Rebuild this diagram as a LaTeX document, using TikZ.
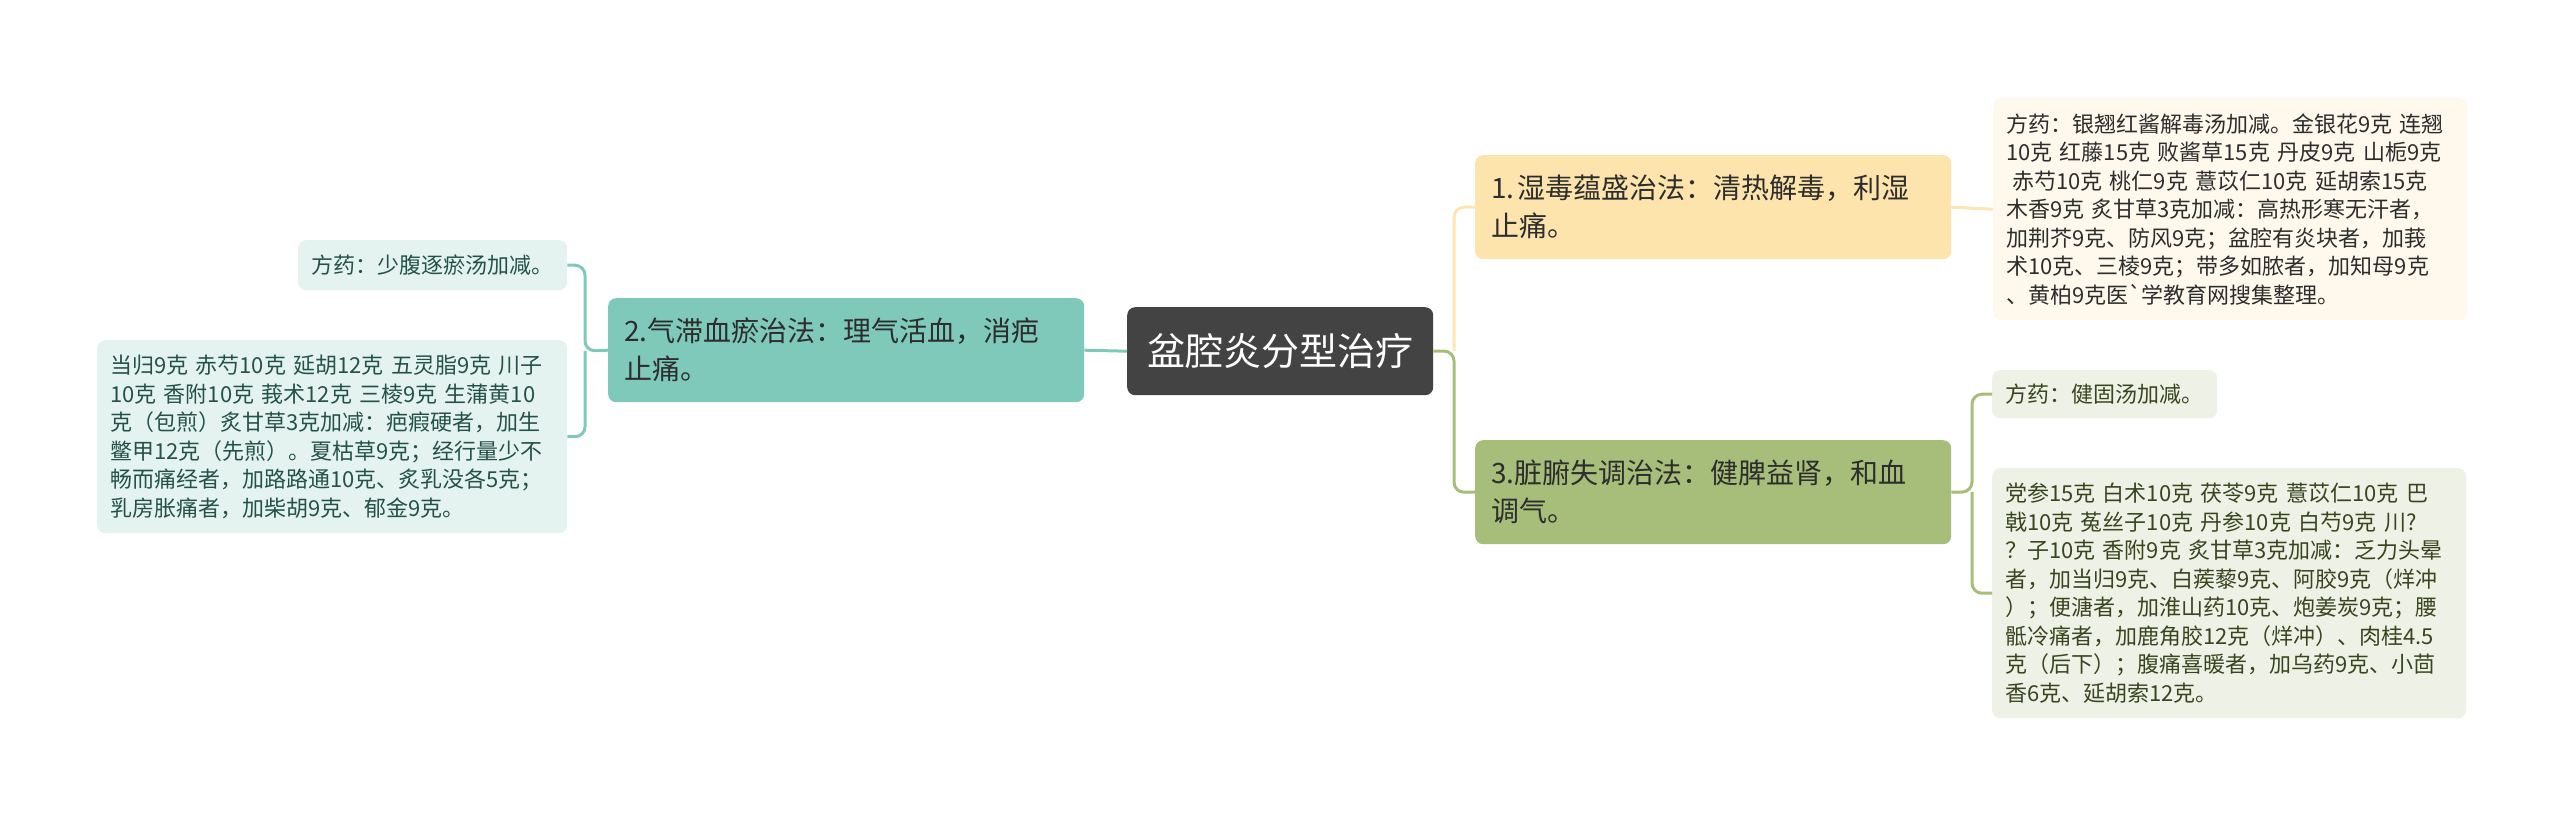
\documentclass[tikz,border=0pt]{standalone}
\usepackage{fontspec}
\setmainfont{Noto Sans CJK SC}
\usepackage{xcolor}
\usepackage{tikz}
\usetikzlibrary{calc}
\usetikzlibrary{positioning}
\definecolor{rootgray}{RGB}{67,67,67}
\definecolor{yelbox}{RGB}{252,228,172}
\definecolor{yelleaf}{RGB}{254,249,236}
\definecolor{yelline}{RGB}{251,230,180}
\definecolor{tealbox}{RGB}{127,201,187}
\definecolor{tealleaf}{RGB}{228,243,240}
\definecolor{tealtxt}{RGB}{36,82,73}
\definecolor{grnbox}{RGB}{166,190,122}
\definecolor{grnleaf}{RGB}{238,241,229}
\definecolor{grntxt}{RGB}{58,69,32}
\definecolor{darktxt}{RGB}{45,45,45}

\begin{document}
\begin{tikzpicture}[x=1pt,y=-1pt,
	box/.style={anchor=north west,rounded corners=8pt,align=left,inner ysep=0pt},
	branch/.style={box,inner xsep=16pt,text width=444pt,minimum height=104pt,text=darktxt,font=\fontsize{28}{38}\selectfont},
	leaf/.style={box,inner xsep=13pt,text=darktxt,font=\fontsize{22}{28.5}\selectfont},
	link/.style={line width=3pt,rounded corners=10pt}]
	\useasboundingbox (0,0) rectangle (2560,816);

	% centre
	\node [anchor=north west,fill=rootgray,rounded corners=8pt,minimum width=306pt,minimum height=88pt,text=white,font=\fontsize{38}{46}\selectfont] (root) at (1127,307) {盆腔炎分型治疗};

	\node [branch,fill=yelbox] (shidu) at (1475,155) {1.\hspace{0.12em}湿毒蕴盛治法：清热解毒，利湿\\止痛。};
	\node [branch,fill=tealbox] (qizhi) at (608,298) {2.气滞血瘀治法：理气活血，消疤\\止痛。};
	\node [branch,fill=grnbox] (zangfu) at (1475,440) {3.脏腑失调治法：健脾益肾，和血\\调气。};

	\node [leaf,fill=yelleaf,text width=448pt,minimum height=222pt] (shiduyao) at (1993,98) {方药：银翘红酱解毒汤加减。金银花9克 连翘\\10克 红藤15克 败酱草15克 丹皮9克 山栀9克\\\hspace*{6pt}赤芍10克 桃仁9克 薏苡仁10克 延胡索15克\\木香9克 炙甘草3克加减：高热形寒无汗者，\\加荆芥9克、防风9克；盆腔有炎块者，加莪\\术10克、三棱9克；带多如脓者，加知母9克\\、黄柏9克医\textasciigrave 学教育网搜集整理。};

	\node [leaf,fill=tealleaf,text=tealtxt,text width=243pt,minimum height=50pt] (qizhiyao) at (298,240) {方药：少腹逐瘀汤加减。};
	\node [leaf,fill=tealleaf,text=tealtxt,text width=444pt,minimum height=193pt] (qizhijia) at (97,340) {当归9克 赤芍10克 延胡12克 五灵脂9克 川子\\10克 香附10克 莪术12克 三棱9克 生蒲黄10\\克（包煎）炙甘草3克加减：疤瘕硬者，加生\\鳖甲12克（先煎）。夏枯草9克；经行量少不\\畅而痛经者，加路路通10克、炙乳没各5克；\\乳房胀痛者，加柴胡9克、郁金9克。};

	\node [leaf,fill=grnleaf,text=grntxt,text width=199pt,minimum height=48pt] (zangfuyao) at (1992,370) {方药：健固汤加减。};
	\node [leaf,fill=grnleaf,text=grntxt,text width=448pt,minimum height=250pt] (zangfujia) at (1992,468) {党参15克 白术10克 茯苓9克 薏苡仁10克 巴\\戟10克 菟丝子10克 丹参10克 白芍9克 川?\\？子10克 香附9克 炙甘草3克加减：乏力头晕\\者，加当归9克、白蒺藜9克、阿胶9克（烊冲\\）；便溏者，加淮山药10克、炮姜炭9克；腰\\骶冷痛者，加鹿角胶12克（烊冲）、肉桂4.5\\克（后下）；腹痛喜暖者，加乌药9克、小茴\\香6克、延胡索12克。};

	\coordinate (jr) at (1454,351);
	\coordinate (jl) at (585,351);
	\coordinate (jg) at (1972,492);

	\draw [link,yelline] (jr) |- (shidu.west);
	\draw [link,grnbox] (root.east) -- (jr) |- (zangfu.west);
	\draw [link,yelline] (shidu.east) -- (shiduyao.west);

	\draw [link,tealbox] (root.west) -- (qizhi.east);
	\draw [link,tealbox] (qizhi.west) -- (jl) |- (qizhiyao.east);
	\draw [link,tealbox] (jl) |- (qizhijia.east);

	\draw [link,grnbox] (zangfu.east) -- (jg) |- (zangfuyao.west);
	\draw [link,grnbox] (jg) |- (zangfujia.west);
\end{tikzpicture}
\end{document}
